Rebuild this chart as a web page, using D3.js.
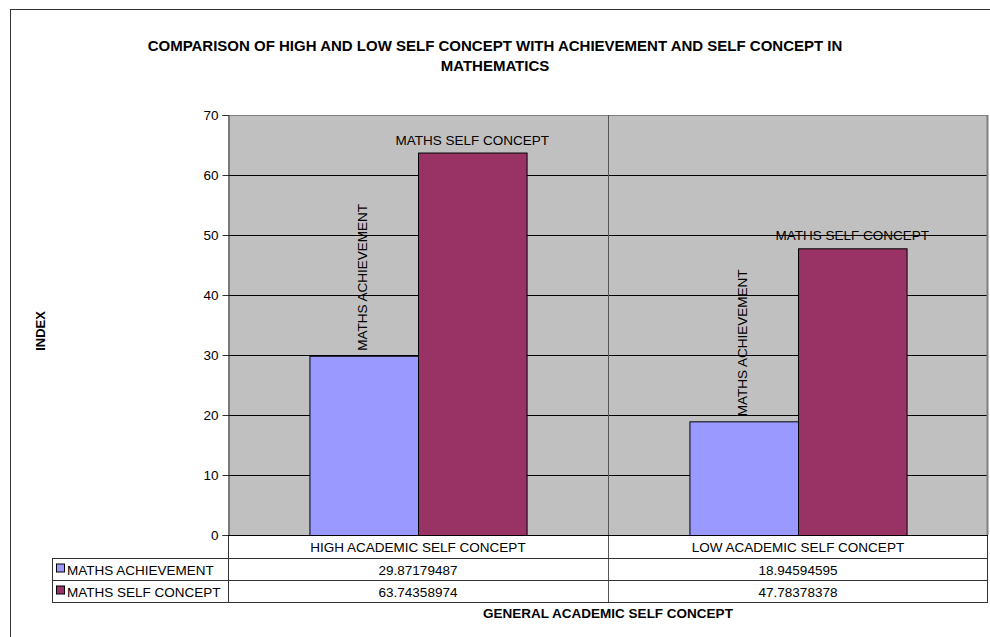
<!doctype html>
<html lang="en">
	<head>
		<meta charset="utf-8">
		<title>Self concept comparison</title>
		<script src="https://d3js.org/d3.v7.min.js"></script>
		<style>
			body { margin: 0; background: #fff; }
			text { font-family: 'Liberation Sans', Arial, sans-serif; }
		</style>
	</head>
	<body>
		<div id="chart"></div>
		<script>
			let categories = ['HIGH ACADEMIC SELF CONCEPT', 'LOW ACADEMIC SELF CONCEPT']
			let seriesNames = ['MATHS ACHIEVEMENT', 'MATHS SELF CONCEPT']
			let achievement = [29.87179487, 18.94594595]
			let selfConcept = [63.74358974, 47.78378378]
			let yTicks = [0, 10, 20, 30, 40, 50, 60, 70]
			let colors = ['#9999FF', '#993366']

			let width = 990
			let height = 637
			let plot = {left: 228, right: 988, top: 115, bottom: 535}
			let rowH = 22
			let fs = 13.5

			let svg = d3.select('#chart').append('svg')
				.attr('width', width)
				.attr('height', height)

			// outer frame
			svg.append('rect')
				.attr('x', 10.5).attr('y', 9.5)
				.attr('width', 1000).attr('height', 700)
				.attr('fill', 'none').attr('stroke', '#333').attr('stroke-width', 1)

			let y = d3.scaleLinear().domain([0, 70]).range([plot.bottom, plot.top])
			let x = d3.scaleBand().domain(categories).range([plot.left, plot.right])
			let xs = d3.scaleBand().domain(seriesNames).range([0, x.bandwidth()]).paddingOuter(0.75)

			svg.append('rect')
				.attr('x', plot.left).attr('y', plot.top)
				.attr('width', plot.right - plot.left).attr('height', plot.bottom - plot.top)
				.attr('fill', '#C0C0C0')

			// gridlines
			svg.append('g').selectAll('line')
				.data(yTicks.filter(d => d > 0 && d < 70))
				.join('line')
				.attr('x1', plot.left).attr('x2', plot.right)
				.attr('y1', d => Math.round(y(d)) + 0.5).attr('y2', d => Math.round(y(d)) + 0.5)
				.attr('stroke', '#000')

			svg.append('line')
				.attr('x1', plot.left).attr('x2', plot.right)
				.attr('y1', plot.top + 0.5).attr('y2', plot.top + 0.5)
				.attr('stroke', '#808080')
			svg.append('line')
				.attr('x1', plot.right - 0.5).attr('x2', plot.right - 0.5)
				.attr('y1', plot.top).attr('y2', plot.bottom)
				.attr('stroke', '#808080').attr('stroke-width', 2)

			// category divider through plot and table
			svg.append('line')
				.attr('x1', x(categories[1]) + 0.5).attr('x2', x(categories[1]) + 0.5)
				.attr('y1', plot.top).attr('y2', plot.bottom + 1 + rowH * 3)
				.attr('stroke', '#555')

			let bars = []
			categories.forEach((c, i) => {
				bars.push({cat: c, series: seriesNames[0], value: achievement[i], color: colors[0]})
				bars.push({cat: c, series: seriesNames[1], value: selfConcept[i], color: colors[1]})
			})

			svg.append('g').selectAll('rect')
				.data(bars)
				.join('rect')
				.attr('x', d => x(d.cat) + xs(d.series) + 0.5)
				.attr('y', d => y(d.value) + 0.5)
				.attr('width', xs.bandwidth())
				.attr('height', d => y(0) - y(d.value))
				.attr('fill', d => d.color)
				.attr('stroke', '#000')

			// bar labels
			let labels = svg.append('g').attr('font-size', fs).attr('fill', '#000')
			bars.forEach(d => {
				let cx = x(d.cat) + xs(d.series) + xs.bandwidth() / 2
				if (d.series === seriesNames[1]) {
					labels.append('text')
						.attr('x', cx).attr('y', y(d.value) - 8)
						.attr('text-anchor', 'middle')
						.text(d.series)
				} else {
					labels.append('text')
						.attr('transform', `translate(${cx + 3},${y(d.value) - 5}) rotate(-90)`)
						.attr('text-anchor', 'start')
						.text(d.series)
				}
			})

			// y axis
			let yAxis = svg.append('g')
				.attr('transform', `translate(${plot.left + 0.5},0)`)
				.call(d3.axisLeft(y).tickValues(yTicks).tickSize(6).tickPadding(4))
			yAxis.selectAll('text').attr('font-size', fs).attr('font-family', "'Liberation Sans', Arial, sans-serif").attr('fill', '#000')
			yAxis.selectAll('line').attr('stroke', '#333')
			yAxis.select('.domain').attr('stroke', '#333')

			// data table
			let table = svg.append('g')
			let rowTops = [plot.bottom, plot.bottom + 23, plot.bottom + 45]
			let tableBottom = plot.bottom + 67
			table.append('line')
				.attr('x1', plot.left + 0.5).attr('x2', plot.left + 0.5)
				.attr('y1', plot.bottom).attr('y2', tableBottom)
				.attr('stroke', '#333')
			table.append('line')
				.attr('x1', plot.right - 0.5).attr('x2', plot.right - 0.5)
				.attr('y1', plot.bottom).attr('y2', tableBottom)
				.attr('stroke', '#333')
			rowTops.slice(1).concat([tableBottom]).forEach(ry => {
				table.append('line')
					.attr('x1', 52).attr('x2', plot.right)
					.attr('y1', ry + 0.5).attr('y2', ry + 0.5)
					.attr('stroke', '#333')
			})
			table.append('line')
				.attr('x1', 52.5).attr('x2', 52.5)
				.attr('y1', rowTops[1]).attr('y2', tableBottom)
				.attr('stroke', '#333')
			svg.append('line')
				.attr('x1', plot.left).attr('x2', plot.right)
				.attr('y1', plot.bottom + 0.5).attr('y2', plot.bottom + 0.5)
				.attr('stroke', '#000')

			categories.forEach(c => {
				table.append('text')
					.attr('x', x(c) + x.bandwidth() / 2).attr('y', rowTops[0] + 17)
					.attr('text-anchor', 'middle').attr('font-size', fs)
					.text(c)
			})
			let seriesValues = [achievement, selfConcept]
			seriesNames.forEach((s, i) => {
				let ty = rowTops[i + 1] + 16.5
				table.append('rect')
					.attr('x', 56.5).attr('y', ty - 10.5)
					.attr('width', 8).attr('height', 8)
					.attr('fill', colors[i]).attr('stroke', '#000')
				table.append('text')
					.attr('x', 67).attr('y', ty)
					.attr('font-size', fs)
					.text(s)
				categories.forEach((c, j) => {
					table.append('text')
						.attr('x', x(c) + x.bandwidth() / 2).attr('y', ty)
						.attr('text-anchor', 'middle').attr('font-size', fs)
						.text(seriesValues[i][j].toFixed(8))
				})
			})

			// titles
			let title = svg.append('text')
				.attr('x', 495).attr('y', 51)
				.attr('text-anchor', 'middle')
				.attr('font-size', 15).attr('font-weight', 'bold')
			title.append('tspan').attr('x', 495).text('COMPARISON OF HIGH AND LOW SELF CONCEPT WITH ACHIEVEMENT AND SELF CONCEPT IN')
			title.append('tspan').attr('x', 495).attr('dy', 20).text('MATHEMATICS')

			svg.append('text')
				.attr('transform', `translate(45,${(plot.top + plot.bottom) / 2 + 6}) rotate(-90)`)
				.attr('text-anchor', 'middle')
				.attr('font-size', 13).attr('font-weight', 'bold')
				.text('INDEX')

			svg.append('text')
				.attr('x', (plot.left + plot.right) / 2).attr('y', 618)
				.attr('text-anchor', 'middle')
				.attr('font-size', 13.5).attr('font-weight', 'bold')
				.text('GENERAL ACADEMIC SELF CONCEPT')
		</script>
	</body>
</html>
